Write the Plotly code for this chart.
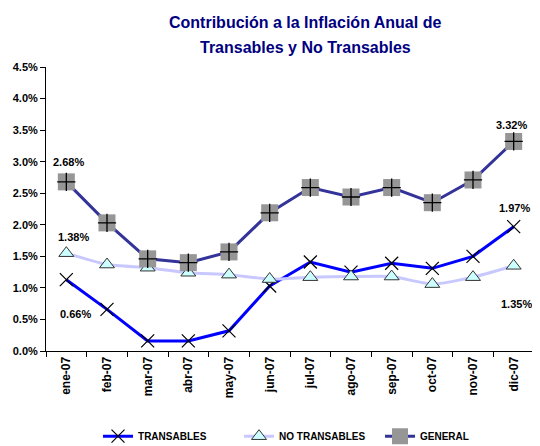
import plotly.graph_objects as go

months = ["ene-07", "feb-07", "mar-07", "abr-07", "may-07", "jun-07",
          "jul-07", "ago-07", "sep-07", "oct-07", "nov-07", "dic-07"]
transables = [1.13, 0.66, 0.16, 0.16, 0.32, 1.03, 1.41, 1.25, 1.39, 1.31, 1.50, 1.97]
no_transables = [1.55, 1.37, 1.32, 1.24, 1.21, 1.14, 1.17, 1.18, 1.18, 1.06, 1.17, 1.35]
general = [2.68, 2.03, 1.46, 1.40, 1.57, 2.19, 2.59, 2.44, 2.59, 2.35, 2.71, 3.32]

label_text = ["2.68%", "1.38%", "0.66%", "3.32%", "1.97%", "1.35%"]
label_x = [0.05, 0.17, 0.22, 10.95, 11.03, 11.06]
label_y = [3.00, 1.80, 0.58, 3.58, 2.27, 0.74]

title_lines = ["Contribución a la Inflación Anual de", "Transables y No Transables"]

FONT = "Liberation Sans, Arial, sans-serif"

fig = go.Figure()
fig.add_trace(go.Scatter(
    x=months, y=transables, name="TRANSABLES", mode="lines+markers",
    line=dict(color="#0000FF", width=3),
    marker=dict(symbol="x-thin", size=13, color="#000000",
                line=dict(color="#000000", width=1.2)),
))
fig.add_trace(go.Scatter(
    x=months, y=no_transables, name="NO TRANSABLES", mode="lines+markers",
    line=dict(color="#C8C8FF", width=3, shape="spline", smoothing=0.6),
    marker=dict(symbol="triangle-up", size=13, color="#CCFFFF",
                line=dict(color="#333333", width=1)),
))
fig.add_trace(go.Scatter(
    x=months, y=general, name="GENERAL", mode="lines+markers",
    line=dict(color="#333399", width=3),
    marker=dict(symbol="square", size=17, color="#969696",
                line=dict(width=0)),
))
fig.add_trace(go.Scatter(
    x=months, y=general, mode="markers", showlegend=False, hoverinfo="skip",
    marker=dict(symbol="cross-thin", size=13, color="#000000",
                line=dict(color="#000000", width=1.3)),
))

for t, xx, yy in zip(label_text, label_x, label_y):
    fig.add_annotation(x=xx, y=yy, xref="x", yref="y", text=t, showarrow=False,
                       font=dict(family=FONT, size=11, color="#000000", weight="bold"))

for t, yy in zip(title_lines, [1.158, 1.067]):
    fig.add_annotation(x=0.531, y=yy, xref="paper", yref="paper", text=t,
                       showarrow=False, xanchor="center", yanchor="middle",
                       font=dict(family=FONT, size=16, color="#000080", weight="bold"))

fig.update_layout(
    width=532, height=438,
    margin=dict(l=38, r=6, t=59, b=95, autoexpand=False),
    paper_bgcolor="white", plot_bgcolor="white",
    font=dict(family=FONT, size=11, color="#000000"),
    showlegend=True,
    legend=dict(orientation="h", x=0.54, xanchor="center", y=-0.30, yanchor="middle",
                font=dict(family=FONT, size=10, color="#000000", weight="bold"),
                itemwidth=30, tracegroupgap=0, entrywidth=96, entrywidthmode="pixels"),
    xaxis=dict(
        type="category", showgrid=False, showline=True, linecolor="#000000", linewidth=1,
        ticks="outside", ticklen=5, tickcolor="#000000", tickson="boundaries",
        tickangle=-90, range=[-0.5, 11.5],
        tickfont=dict(family=FONT, size=12, color="#000000", weight="bold"),
    ),
    yaxis=dict(
        range=[0, 4.5], dtick=0.5, tickformat=".1f", ticksuffix="%",
        showgrid=False, showline=True, linecolor="#000000", linewidth=1,
        ticks="outside", ticklen=5, tickcolor="#000000", zeroline=False,
        tickfont=dict(family=FONT, size=11, color="#000000", weight="bold"),
    ),
)

fig.write_html("out.html")
